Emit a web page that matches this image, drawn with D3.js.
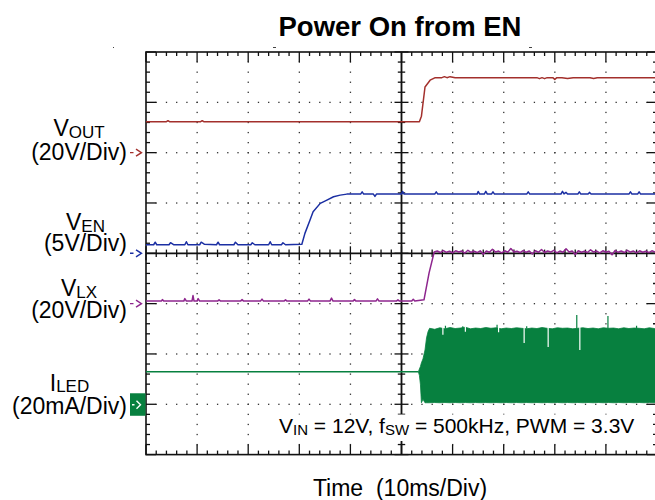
<!DOCTYPE html>
<html>
<head>
<meta charset="utf-8">
<script src="https://cdn.jsdelivr.net/npm/d3@7"></script>
<style>
  body { margin: 0; background: #fff; }
  svg { display: block; font-family: "Liberation Sans", Arial, Helvetica, sans-serif; }
</style>
</head>
<body>
<svg id="chart" width="655" height="500"></svg>
<script>
const title = "Power On from EN"
const xLabel = "Time  (10ms/Div)"
const timeDomain = [0, 100]      // ms, 10 divisions of 10 ms
const divDomain = [-4, 4]        // 8 vertical divisions

const channelNames = ["V", "V", "V", "I"]
const channelSubs = ["OUT", "EN", "LX", "LED"]
const channelScales = ["(20V/Div)", "(5V/Div)", "(20V/Div)", "(20mA/Div)"]
const channelPerDiv = [20, 5, 20, 20]
const channelOffset = [2, 0, -1, -3]   // ground marker, in divisions

const noteParts = [["V", ""], ["IN", "sub"], [" = 12V, f", ""], ["SW", "sub"], [" = 500kHz, PWM = 3.3V", ""]]

// [ms, V]
const voutData = [[0, 12.3], [4.0, 12.3], [4.3, 12.7], [4.6, 12.3], [10.7, 12.3], [11.0, 12.7], [11.3, 12.3],
  [53.5, 12.3], [53.9, 14.5], [54.6, 26.1], [55.6, 28.8], [56.6, 29.8], [57.9, 29.8], [58.4, 30.2], [58.9, 29.8],
  [59.5, 30.2], [60.5, 29.8], [76.5, 29.8], [77.0, 29.4], [77.5, 29.8], [78.0, 29.4], [78.5, 29.8], [79.6, 29.8],
  [80.0, 29.1], [80.4, 29.8], [81.4, 29.8], [82.5, 29.5], [83.6, 29.8], [84.9, 29.8], [86.9, 29.8], [87.6, 29.5],
  [88.3, 29.8], [100, 29.8]]

const venData = [[0, 0.85], [1.5, 0.85], [1.8, 1.1], [2.1, 0.85], [4.5, 0.85], [4.8, 1.05], [5.4, 0.85], [7.6, 0.85],
  [7.9, 1.15], [8.2, 0.85], [10.5, 0.85], [10.8, 1.1], [11.4, 0.9], [13.8, 0.85], [14.1, 1.1], [14.4, 0.85],
  [17.2, 0.85], [17.5, 1.1], [18.0, 0.85], [20.5, 0.85], [20.8, 1.05], [21.3, 0.85], [24.0, 0.85], [24.3, 1.15],
  [24.6, 0.85], [26.5, 0.85], [26.8, 1.05], [27.3, 0.85], [30.5, 0.9],
  [31.1, 1.98], [32.1, 3.30], [32.7, 4.13], [34.1, 4.96], [35.4, 5.29], [36.7, 5.62], [38.0, 5.78], [39.3, 5.88],
  [42.0, 5.88], [42.3, 6.1], [42.6, 5.88], [44.5, 5.88], [44.8, 5.65], [45.1, 5.88], [50.0, 5.88], [50.2, 6.15],
  [50.5, 5.88], [56.5, 5.88], [56.8, 6.1], [57.1, 5.88], [64.8, 5.88], [65.0, 6.15], [65.3, 5.88], [66.2, 5.88],
  [66.5, 6.15], [66.8, 5.88], [67.6, 5.88], [67.9, 6.1], [68.2, 5.88], [74.5, 5.88], [74.8, 6.1], [75.1, 5.88],
  [81.2, 5.88], [81.5, 6.15], [81.8, 5.9], [82.2, 6.05], [82.5, 5.88], [84.5, 5.88], [84.8, 6.1], [85.1, 5.88],
  [86.5, 5.88], [86.8, 6.05], [87.1, 5.88], [94.5, 5.88], [94.8, 6.1], [95.1, 5.88], [96.2, 5.88], [96.5, 6.1],
  [96.8, 5.88], [100, 5.88]]

const vlxData = [[0, 1.0], [3.0, 1.0], [3.2, 1.6], [3.5, 1.0], [7.4, 1.0], [7.6, 2.0], [7.9, 1.0], [9.0, 1.0],
  [9.2, 3.2], [9.4, 1.0], [10.0, 1.0], [10.2, 2.0], [10.5, 1.0], [14.0, 1.0], [14.3, 1.5], [14.6, 1.0],
  [18.5, 1.0], [18.8, 1.6], [19.1, 1.0], [22.4, 1.0], [22.7, 1.8], [23.0, 1.0], [27.0, 1.0], [27.3, 1.5],
  [27.6, 1.0], [31.6, 1.0], [31.9, 1.8], [32.2, 1.0], [36.0, 1.0], [36.3, 2.2], [36.6, 1.0], [40.5, 1.0],
  [40.8, 1.6], [41.1, 1.0], [45.0, 1.0], [45.3, 1.9], [45.6, 1.0], [49.0, 1.0], [49.3, 1.5], [49.6, 1.0],
  [52.0, 1.0], [52.3, 1.7], [52.6, 1.0], [54.4, 1.5], [55.4, 12.2], [56.4, 20.5],
  [57.0, 20.9], [57.6, 20.3], [58.2, 21.1], [58.8, 20.4], [59.4, 20.8], [60.0, 20.2], [60.6, 21.0], [61.2, 20.5],
  [61.8, 20.9], [62.4, 20.1], [63.0, 21.2], [63.6, 20.4], [64.2, 20.8], [64.8, 20.3], [65.4, 21.0], [66.0, 19.6],
  [66.6, 20.9], [67.2, 20.4], [67.8, 21.6], [68.4, 20.5], [69.0, 20.9], [69.6, 20.2], [70.2, 21.0], [70.8, 20.4],
  [71.4, 21.9], [72.0, 20.5], [72.6, 20.8], [73.2, 20.3], [73.8, 21.1], [74.4, 20.4], [75.0, 20.9], [75.6, 19.7],
  [76.2, 21.0], [76.8, 20.4], [77.4, 21.5], [78.0, 20.3], [78.6, 20.9], [79.2, 20.5], [79.8, 21.2], [80.4, 20.2],
  [81.0, 20.9], [81.6, 20.4], [82.2, 21.8], [82.8, 20.5], [83.4, 20.9], [84.0, 19.5], [84.6, 21.0], [85.2, 20.4],
  [85.8, 20.8], [86.4, 20.3], [87.0, 21.4], [87.6, 20.5], [88.2, 20.9], [88.8, 20.2], [89.4, 21.0], [90.0, 20.4],
  [90.6, 20.8], [91.2, 19.4], [91.8, 21.1], [92.4, 20.4], [93.0, 20.9], [93.6, 20.3], [94.2, 21.2], [94.8, 20.5],
  [95.4, 20.9], [96.0, 20.2], [96.6, 21.0], [97.2, 20.4], [97.8, 20.8], [98.4, 20.3], [99.0, 21.0], [99.6, 20.5],
  [100, 20.8]]

// [ms, mA]
const iledLine = [[0, 12.9], [53.3, 12.9]]
// [ms, low mA, high mA] envelope of the switching current
const iledBand = [[53.3, 12.9, 12.9], [53.5, 11.5, 14.0], [53.7, 8.0, 15.0], [53.9, 0.6, 16.5], [54.2, 2.0, 18.0],
  [54.6, 0.6, 21.6], [54.9, 0.6, 26.4], [55.2, 0.6, 28.9], [55.5, 0.6, 30.2],
  [56.5, 0.7, 29.8], [57.5, 0.6, 30.4], [58.5, 0.7, 30.0], [59.5, 0.6, 30.5], [60.5, 0.7, 30.1], [61.5, 0.6, 30.3],
  [62.5, 0.7, 30.6], [63.5, 0.6, 30.0], [64.5, 0.7, 30.3], [65.5, 0.6, 30.1], [66.5, 0.7, 30.5], [67.5, 0.6, 30.2],
  [68.5, 0.7, 30.4], [69.5, 0.6, 30.0], [70.5, 0.7, 30.3], [71.5, 0.6, 30.1], [72.5, 0.7, 30.4], [73.5, 0.6, 30.2],
  [74.5, 0.7, 30.0], [75.5, 0.6, 30.3], [76.5, 0.7, 30.1], [77.5, 0.6, 30.5], [78.5, 0.7, 30.2], [79.5, 0.6, 30.0],
  [80.5, 0.7, 30.4], [81.5, 0.6, 30.2], [82.5, 0.7, 30.3], [83.5, 0.6, 30.0], [84.5, 0.7, 30.2], [85.5, 0.6, 30.4],
  [86.5, 0.7, 30.1], [87.5, 0.6, 30.3], [88.5, 0.7, 30.0], [89.5, 0.6, 30.4], [90.5, 0.7, 30.2], [91.5, 0.6, 30.3],
  [92.5, 0.7, 30.0], [93.5, 0.6, 30.4], [94.5, 0.7, 30.1], [95.5, 0.6, 30.3], [96.5, 0.7, 30.2], [97.5, 0.6, 30.0],
  [98.5, 0.7, 30.4], [99.5, 0.6, 30.1], [100, 0.7, 30.3]]
const iledSpikes = [[58.6, 31.2], [62.0, 31.0], [68.7, 31.6], [74.5, 31.0], [84.3, 35.5], [90.4, 35.1], [96.0, 31.2]]
const iledNotches = [[58.1, 27.6], [62.5, 28.8], [69.0, 28.6], [74.0, 24.4], [78.7, 22.8], [84.9, 21.6]]

// ---- layout ----
const colors = ["#a3302c", "#1b2fa3", "#8e268e", "#07803f"]
const svg = d3.select("#chart")

const x = d3.scaleLinear().domain(timeDomain).range([146, 657])
const y = d3.scaleLinear().domain(divDomain).range([454.6, 52])
const chY = (i) => (v) => y(channelOffset[i] + v / channelPerDiv[i])

const xMinor = d3.range(0, 100.001, 2)
const xMajor = d3.range(0, 100.001, 10)
const yMinor = d3.range(-4, 4.001, 0.2).map((d) => +d.toFixed(1))
const yMajor = d3.range(-4, 4.001, 1)

// title + axis label
svg.append("text")
  .attr("x", 400).attr("y", 36)
  .attr("text-anchor", "middle")
  .attr("font-size", 27.5).attr("font-weight", "bold")
  .text(title)

svg.append("text")
  .attr("x", 400).attr("y", 496)
  .attr("text-anchor", "middle")
  .attr("font-size", 23)
  .style("white-space", "pre")
  .text(xLabel)

// tiny scope marks above the graticule
svg.append("g").attr("stroke", "#444").attr("stroke-width", 1)
  .selectAll("line").data([[113, 1], [273, 3], [529, 3]])
  .join("line")
  .attr("x1", (d) => d[0]).attr("x2", (d) => d[0] + d[1])
  .attr("y1", 47.5).attr("y2", 47.5)

// dotted grid
const dots = []
xMajor.filter((t) => t > 0 && t < 100 && t !== 50).forEach((t) => {
  yMinor.filter((v) => v > -4 && v < 4).forEach((v) => dots.push([x(t), y(v)]))
})
yMajor.filter((v) => v > -4 && v < 4 && v !== 0).forEach((v) => {
  xMinor.filter((t) => t > 0 && t < 100).forEach((t) => dots.push([x(t), y(v)]))
})
svg.append("g").attr("fill", "#333")
  .selectAll("rect").data(dots)
  .join("rect")
  .attr("x", (d) => d[0] - 0.6).attr("y", (d) => d[1] - 0.6)
  .attr("width", 1.3).attr("height", 1.3)

// border with inward ticks
const frame = svg.append("g").attr("stroke", "#111").attr("fill", "none")
frame.append("rect")
  .attr("x", x(0)).attr("y", y(4))
  .attr("width", x(100) - x(0)).attr("height", y(-4) - y(4))
  .attr("stroke-width", 1.6)

const isMajorT = (t) => t % 10 === 0
const isMajorV = (v) => Math.abs(v - Math.round(v)) < 1e-6
frame.selectAll(".tt").data(xMinor).join("line")
  .attr("x1", (t) => x(t)).attr("x2", (t) => x(t))
  .attr("y1", y(4)).attr("y2", (t) => y(4) + (isMajorT(t) ? 10 : 4))
  .attr("stroke-width", 1.3)
frame.selectAll(".tb").data(xMinor).join("line")
  .attr("x1", (t) => x(t)).attr("x2", (t) => x(t))
  .attr("y1", y(-4)).attr("y2", (t) => y(-4) - (isMajorT(t) ? 10 : 4))
  .attr("stroke-width", 1.3)
frame.selectAll(".tl").data(yMinor).join("line")
  .attr("y1", (v) => y(v)).attr("y2", (v) => y(v))
  .attr("x1", x(0)).attr("x2", (v) => x(0) + (isMajorV(v) ? 10 : 4))
  .attr("stroke-width", 1.3)
frame.selectAll(".tr").data(yMinor).join("line")
  .attr("y1", (v) => y(v)).attr("y2", (v) => y(v))
  .attr("x1", x(100)).attr("x2", (v) => x(100) - (isMajorV(v) ? 10 : 4))
  .attr("stroke-width", 1.3)

// centre cross with ticks
const cross = svg.append("g").attr("stroke", "#111")
cross.append("line")
  .attr("x1", x(50)).attr("x2", x(50)).attr("y1", y(4)).attr("y2", y(-4))
  .attr("stroke-width", 1.8)
cross.append("line")
  .attr("x1", x(0)).attr("x2", x(100)).attr("y1", y(0)).attr("y2", y(0))
  .attr("stroke-width", 1.8)
cross.selectAll(".cv").data(yMinor).join("line")
  .attr("y1", (v) => y(v)).attr("y2", (v) => y(v))
  .attr("x1", (v) => x(50) - (isMajorV(v) ? 7 : 3.7))
  .attr("x2", (v) => x(50) + (isMajorV(v) ? 7 : 3.7))
  .attr("stroke-width", 1.3)
cross.selectAll(".ch").data(xMinor).join("line")
  .attr("x1", (t) => x(t)).attr("x2", (t) => x(t))
  .attr("y1", (t) => y(0) - (isMajorT(t) ? 7 : 3.7))
  .attr("y2", (t) => y(0) + (isMajorT(t) ? 7 : 3.7))
  .attr("stroke-width", 1.3)

// traces
svg.append("defs").append("clipPath").attr("id", "plot")
  .append("rect").attr("x", x(0)).attr("y", y(4))
  .attr("width", x(100) - x(0)).attr("height", y(-4) - y(4))
const traces = svg.append("g").attr("clip-path", "url(#plot)")

// ILED switching band
const yI = chY(3)
traces.append("path")
  .datum(iledBand)
  .attr("fill", colors[3])
  .attr("stroke", colors[3]).attr("stroke-width", 0.8)
  .attr("d", d3.area().x((d) => x(d[0])).y0((d) => yI(d[1])).y1((d) => yI(d[2])))
traces.append("g").attr("stroke", colors[3]).attr("stroke-width", 1.2)
  .selectAll("line").data(iledSpikes).join("line")
  .attr("x1", (d) => x(d[0])).attr("x2", (d) => x(d[0]))
  .attr("y1", yI(30)).attr("y2", (d) => yI(d[1]))
traces.append("g").attr("stroke", "#fff").attr("stroke-width", 1.2)
  .selectAll("line").data(iledNotches).join("line")
  .attr("x1", (d) => x(d[0])).attr("x2", (d) => x(d[0]))
  .attr("y1", yI(31)).attr("y2", (d) => yI(d[1]))
traces.append("path")
  .datum(iledLine)
  .attr("fill", "none").attr("stroke", colors[3]).attr("stroke-width", 1.5)
  .attr("d", d3.line().x((d) => x(d[0])).y((d) => yI(d[1])))

const lineSeries = [voutData, venData, vlxData]
lineSeries.forEach((data, i) => {
  const yc = chY(i)
  traces.append("path")
    .datum(data)
    .attr("fill", "none")
    .attr("stroke", colors[i])
    .attr("stroke-width", 1.5)
    .attr("stroke-linejoin", "round")
    .attr("d", d3.line().x((d) => x(d[0])).y((d) => yc(d[1])))
})

// ground markers
channelOffset.forEach((off, i) => {
  const gy = y(off)
  if (i === 3) {
    svg.append("rect").attr("x", 130).attr("y", gy - 11).attr("width", 15.5).attr("height", 22.5)
      .attr("fill", colors[i])
    svg.append("path")
      .attr("d", `M132,${gy + 0.5}H134.5M136.5,${gy - 3.5}L140.5,${gy + 0.5}L136.5,${gy + 4.5}`)
      .attr("fill", "none").attr("stroke", "#fff").attr("stroke-width", 1.4)
  } else {
    svg.append("path")
      .attr("d", `M130,${gy}H133.5M136,${gy - 3.5}L141.5,${gy}L136,${gy + 3.5}`)
      .attr("fill", "none").attr("stroke", colors[i]).attr("stroke-width", 1.4)
  }
})

// channel labels, two centred lines ending at x = 127
const labelBase = [[136, 160], [230, 250.5], [296, 318], [390.5, 413.5]]
channelNames.forEach((name, i) => {
  const g = svg.append("g").attr("font-size", 23)
  const second = g.append("text")
    .attr("x", 127).attr("y", labelBase[i][1])
    .attr("text-anchor", "end")
    .text(channelScales[i])
  const w = second.node().getComputedTextLength()
  const first = g.append("text")
    .attr("x", 127 - w / 2).attr("y", labelBase[i][0])
    .attr("text-anchor", "middle")
  first.append("tspan").text(name)
  first.append("tspan").attr("font-size", 17).attr("dy", 1.7).text(channelSubs[i])
})

// condition note on a white box
svg.append("rect").attr("x", 274).attr("y", 414.5).attr("width", 374).attr("height", 26.5).attr("fill", "#fff")
const note = svg.append("text").attr("x", 279).attr("y", 433).attr("font-size", 21)
noteParts.forEach(([s, kind], k) => {
  const prev = k > 0 ? noteParts[k - 1][1] : ""
  const ts = note.append("tspan").text(s)
  if (kind === "sub") ts.attr("font-size", 15).attr("dy", 1.5)
  else if (prev === "sub") ts.attr("dy", -1.5)
})
</script>
</body>
</html>
